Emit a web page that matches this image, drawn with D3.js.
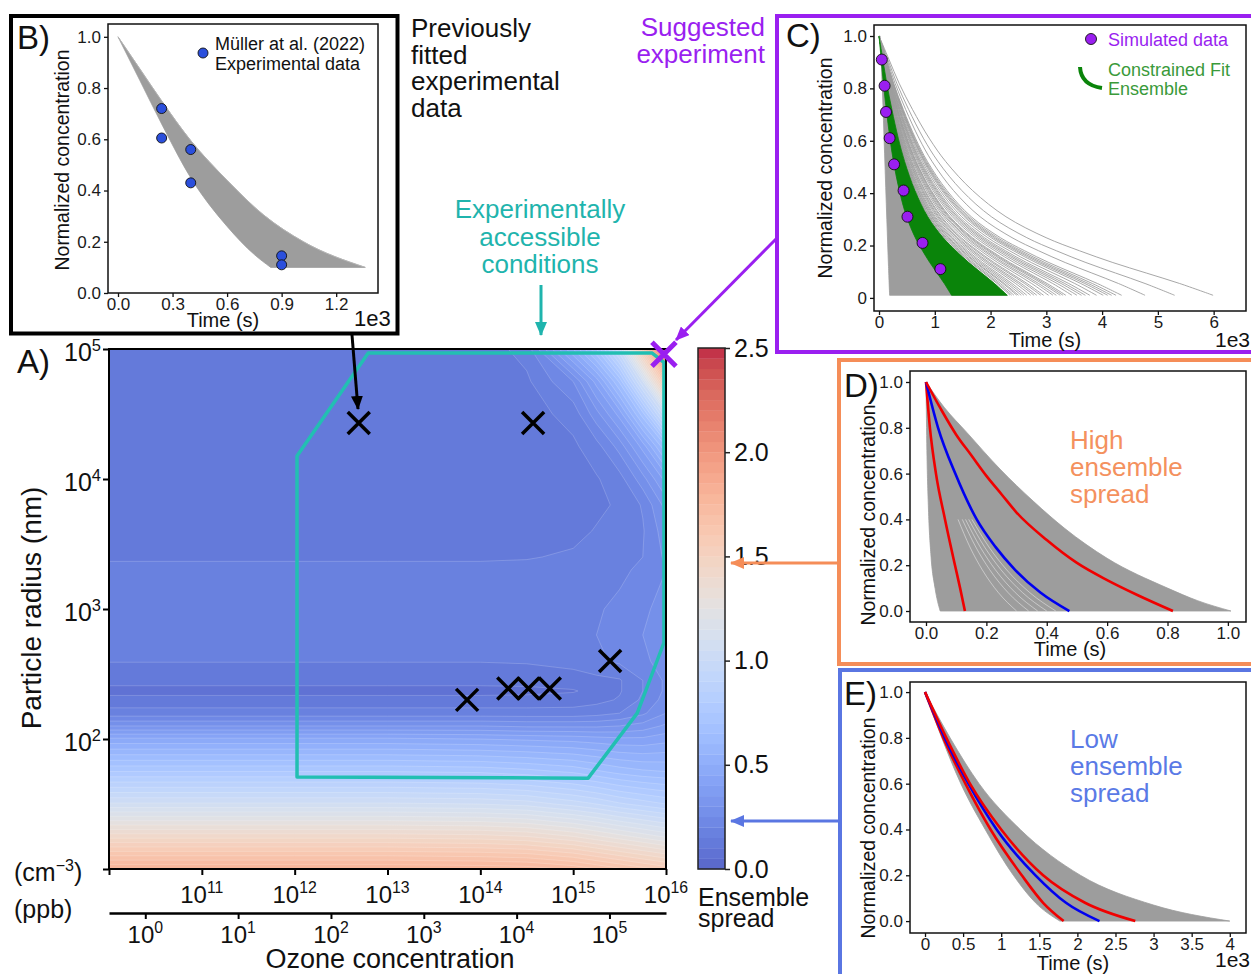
<!DOCTYPE html>
<html>
<head>
<meta charset="utf-8">
<script src="https://cdn.jsdelivr.net/npm/d3@7"></script>
<style>
  body { margin: 0; background: #fff; }
  svg { font-family: "Liberation Sans", Arial, sans-serif; }
</style>
</head>
<body>
<svg id="fig" width="1251" height="974"></svg>
<script>
// ---------- A) ensemble spread over ozone concentration x particle radius ----------
const ozoneGrid = [1e10, 1e12, 1e13, 1e14, 3.16e14, 1e15, 1.78e15, 3.16e15, 5.62e15, 1e16]; // cm^-3
const radiusGrid = [10, 17.8, 31.6, 56.2, 100, 126, 158, 200, 234, 282, 398, 631, 1000,
                    1995, 2512, 3981, 6310, 1e4, 1.78e4, 3.16e4, 5.62e4, 1e5]; // nm
// rows follow radiusGrid (bottom -> top), columns follow ozoneGrid
const spreadGrid = [
  [1.80, 1.80, 1.80, 1.79, 1.78, 1.74, 1.70, 1.66, 1.62, 1.58],
  [1.43, 1.43, 1.43, 1.42, 1.40, 1.35, 1.31, 1.27, 1.23, 1.19],
  [1.06, 1.06, 1.06, 1.05, 1.03, 0.98, 0.95, 0.91, 0.88, 0.85],
  [0.75, 0.75, 0.75, 0.74, 0.72, 0.69, 0.66, 0.63, 0.61, 0.60],
  [0.46, 0.46, 0.46, 0.45, 0.44, 0.43, 0.42, 0.41, 0.41, 0.43],
  [0.30, 0.30, 0.30, 0.30, 0.29, 0.29, 0.29, 0.30, 0.32, 0.36],
  [0.17, 0.17, 0.17, 0.17, 0.17, 0.17, 0.18, 0.20, 0.24, 0.30],
  [0.12, 0.12, 0.12, 0.12, 0.12, 0.125, 0.135, 0.155, 0.21, 0.27],
  [0.08, 0.08, 0.08, 0.08, 0.085, 0.095, 0.12, 0.145, 0.20, 0.26],
  [0.12, 0.12, 0.12, 0.12, 0.12, 0.13, 0.135, 0.145, 0.20, 0.26],
  [0.152, 0.152, 0.152, 0.152, 0.155, 0.165, 0.19, 0.21, 0.24, 0.27],
  [0.17, 0.17, 0.17, 0.17, 0.17, 0.18, 0.20, 0.22, 0.25, 0.28],
  [0.18, 0.18, 0.18, 0.18, 0.18, 0.185, 0.195, 0.21, 0.24, 0.27],
  [0.17, 0.17, 0.17, 0.17, 0.17, 0.175, 0.18, 0.19, 0.21, 0.25],
  [0.14, 0.14, 0.14, 0.14, 0.145, 0.16, 0.17, 0.18, 0.20, 0.26],
  [0.12, 0.12, 0.12, 0.12, 0.125, 0.13, 0.155, 0.175, 0.195, 0.28],
  [0.12, 0.12, 0.12, 0.12, 0.12, 0.125, 0.135, 0.16, 0.205, 0.32],
  [0.12, 0.12, 0.12, 0.12, 0.12, 0.13, 0.145, 0.18, 0.28, 0.42],
  [0.12, 0.12, 0.12, 0.12, 0.12, 0.14, 0.18, 0.27, 0.42, 0.65],
  [0.12, 0.12, 0.12, 0.12, 0.125, 0.17, 0.28, 0.42, 0.68, 1.05],
  [0.12, 0.12, 0.12, 0.12, 0.14, 0.25, 0.42, 0.66, 1.05, 1.65],
  [0.12, 0.12, 0.12, 0.12, 0.17, 0.50, 0.70, 1.00, 1.60, 2.35]
];
const spreadLevels = d3.range(0, 2.51, 0.05);
const spreadTicks = [0, 0.5, 1.0, 1.5, 2.0, 2.5];
const radiusTicks = [1e1, 1e2, 1e3, 1e4, 1e5];
const ozoneTicks = [1e10, 1e11, 1e12, 1e13, 1e14, 1e15, 1e16];
const ppbTicks = [1e0, 1e1, 1e2, 1e3, 1e4, 1e5];
const ppbToCm3 = 2.46e10;

// experimentally accessible region (polygon corners)
const accessOzone = [1.06e12, 1.45e15, 4.9e15, 9.5e15, 9.5e15, 7.1e15, 6.2e12, 1.06e12];
const accessRadius = [51, 50, 158, 550, 7.9e4, 9.3e4, 9.3e4, 1.5e4];

// previous experiments and suggested experiment
const expOzone = [4.9e12, 3.7e14, 7.2e13, 2.0e14, 3.3e14, 5.6e14, 2.5e15];
const expRadius = [2.7e4, 2.7e4, 200, 245, 245, 245, 398];
const suggestedOzone = [9.5e15];
const suggestedRadius = [9.1e4];

// ---------- B) previously fitted data (time in 1e3 s) ----------
const bUpper = [[0, 1.0], [0.12, 0.875], [0.24, 0.75], [0.4, 0.595], [0.6, 0.44], [0.8, 0.305], [1.02, 0.2], [1.36, 0.1]];
const bLower = [[0, 1.0], [0.12, 0.83], [0.24, 0.66], [0.4, 0.45], [0.6, 0.26], [0.75, 0.15], [0.84, 0.1]];
const bExpTime = [0.24, 0.24, 0.4, 0.4, 0.9, 0.9];
const bExpConc = [0.72, 0.605, 0.56, 0.43, 0.145, 0.11];
const bTimeTicks = [0, 0.3, 0.6, 0.9, 1.2];
const concTicks = [0, 0.2, 0.4, 0.6, 0.8, 1.0];

// ---------- C) suggested experiment (time in 1e3 s) ----------
const cProfile = [[0, 1], [0.03, 0.91], [0.06, 0.82], [0.1, 0.72], [0.15, 0.61], [0.2, 0.52], [0.28, 0.41],
                  [0.38, 0.31], [0.5, 0.23], [0.6, 0.18], [0.7, 0.135], [0.8, 0.095], [0.9, 0.055], [1, 0.01]];
const cLeft = [[0.02, 1.0], [0.06, 0.8], [0.1, 0.55], [0.14, 0.3], [0.17, 0.12], [0.19, 0.01]];
const cFitEnds = [1.3, 2.3];
const cGreyEnds = [2.35, 2.38, 2.42, 2.47, 2.5, 2.55, 2.6, 2.65, 2.72, 2.78, 2.83, 2.9, 2.95, 3.04, 3.12,
                   3.18, 3.25, 3.3, 3.35, 3.46, 3.55, 3.63, 3.7, 3.78, 3.9, 4.02, 4.1, 4.17, 4.25, 4.35,
                   4.77, 5.3, 5.99];
const cSimTime = [0.05, 0.1, 0.125, 0.19, 0.27, 0.44, 0.51, 0.78, 1.1];
const cSimConc = [0.91, 0.81, 0.71, 0.61, 0.51, 0.41, 0.31, 0.21, 0.11];
const cTimeTicks = [0, 1, 2, 3, 4, 5, 6];

// ---------- D) high ensemble spread (time in s) ----------
const dUpper = [[0, 1], [0.06, 0.89], [0.135, 0.78], [0.245, 0.62], [0.355, 0.48], [0.46, 0.36], [0.6, 0.23], [0.8, 0.1], [0.9, 0.045], [1.01, 0]];
const dLower = [[0, 1], [0.003, 0.7], [0.008, 0.45], [0.016, 0.25], [0.03, 0.1], [0.047, 0]];
const dRedFast = [[0, 1], [0.013, 0.8], [0.033, 0.6], [0.063, 0.4], [0.096, 0.2], [0.113, 0.1], [0.129, 0]];
const dBlue = [[0, 1], [0.04, 0.8], [0.097, 0.6], [0.168, 0.4], [0.23, 0.28], [0.295, 0.18], [0.38, 0.08], [0.475, 0]];
const dRedSlow = [[0, 1], [0.05, 0.88], [0.1, 0.77], [0.15, 0.68], [0.2, 0.59], [0.25, 0.51], [0.3, 0.43],
                  [0.4, 0.31], [0.5, 0.21], [0.6, 0.135], [0.7, 0.07], [0.818, 0]];
const dGapEnds = [0.3, 0.34, 0.37, 0.4, 0.43];   // lighter gaps inside the D ensemble
const dTimeTicks = [0, 0.2, 0.4, 0.6, 0.8, 1.0];

// ---------- E) low ensemble spread (time in 1e3 s) ----------
const eUpper = [[0, 1], [0.33, 0.8], [0.71, 0.6], [1.25, 0.4], [2.04, 0.2], [3.0, 0.07], [4.0, 0]];
const eLower = [[0, 1], [0.22, 0.8], [0.47, 0.6], [0.79, 0.4], [1.16, 0.2], [1.45, 0.08], [1.77, 0]];
const eRedFast = [[0, 1], [0.24, 0.8], [0.53, 0.6], [0.86, 0.4], [1.27, 0.2], [1.55, 0.08], [1.82, 0]];
const eBlue = [[0, 1], [0.26, 0.8], [0.57, 0.6], [0.94, 0.4], [1.45, 0.2], [1.85, 0.08], [2.29, 0]];
const eRedSlow = [[0, 1], [0.28, 0.8], [0.59, 0.6], [1.0, 0.4], [1.55, 0.2], [2.1, 0.08], [2.76, 0]];
const eTimeTicks = [0, 0.5, 1, 1.5, 2, 2.5, 3, 3.5, 4];

// coolwarm colormap stops
const coolwarm = [[59,76,192],[68,90,204],[77,104,215],[87,117,225],[98,130,234],[108,142,241],[119,154,247],
  [130,165,251],[141,176,254],[152,185,255],[163,194,255],[174,201,253],[184,208,249],[194,213,244],[204,217,238],
  [213,219,230],[221,221,221],[229,216,209],[236,211,197],[241,204,184],[245,196,172],[247,187,160],[247,177,148],
  [247,167,136],[244,154,123],[241,141,111],[236,127,99],[229,112,88],[222,96,77],[213,80,66],[203,62,56],
  [192,40,47],[180,4,38]];

const GREY = "#9d9d9d", PURPLE = "#9a1ff0", TEAL = "#22bfb2", ORANGE = "#f58d58", BLUEBOX = "#5a76e2";

const svg = d3.select("#fig");
const defs = svg.append("defs");

const cw = d3.scaleLinear()
  .domain(coolwarm.map((c, i) => i / (coolwarm.length - 1)))
  .range(coolwarm.map(c => `rgb(${c})`));
function spreadColor(v) {
  const c = d3.rgb(cw(Math.max(0, Math.min(1, v / 2.5))));
  const a = 0.85;
  return d3.rgb(c.r * a + 255 * (1 - a), c.g * a + 255 * (1 - a), c.b * a + 255 * (1 - a)).formatHex();
}

function text(sel, str, x, y, size, opts = {}) {
  return sel.append("text").attr("x", x).attr("y", y).attr("font-size", size)
    .attr("fill", opts.fill || "#111").attr("text-anchor", opts.anchor || "start").text(str);
}
function powLabel(sel, x, y, exp, size, anchor) {
  const t = sel.append("text").attr("x", x).attr("y", y).attr("font-size", size)
    .attr("fill", "#111").attr("text-anchor", anchor || "middle");
  t.append("tspan").text("10");
  t.append("tspan").attr("dy", -size * 0.42).attr("font-size", size * 0.66).text(exp);
  return t;
}
function arrowMarker(id, color) {
  defs.append("marker").attr("id", id).attr("markerUnits", "userSpaceOnUse")
    .attr("viewBox", "0 0 14 12").attr("markerWidth", 14).attr("markerHeight", 12)
    .attr("refX", 13).attr("refY", 6).attr("orient", "auto")
    .append("path").attr("d", "M0,0 L14,6 L0,12 Z").attr("fill", color);
}

// ---------- boxes around the side panels ----------
svg.append("rect").attr("x", 11).attr("y", 16).attr("width", 386.5).attr("height", 317.5)
  .attr("fill", "none").attr("stroke", "#000").attr("stroke-width", 4);
svg.append("rect").attr("x", 777).attr("y", 16).attr("width", 500).attr("height", 336)
  .attr("fill", "none").attr("stroke", PURPLE).attr("stroke-width", 4);
svg.append("rect").attr("x", 839).attr("y", 360).attr("width", 500).attr("height", 304)
  .attr("fill", "none").attr("stroke", ORANGE).attr("stroke-width", 4);
svg.append("rect").attr("x", 840).attr("y", 670).attr("width", 500).attr("height", 400)
  .attr("fill", "none").attr("stroke", BLUEBOX).attr("stroke-width", 4);

// ---------- panel A ----------
const A = { left: 109, right: 666, top: 349, bottom: 869 };
const xO = d3.scaleLog().domain([1e10, 1e16]).range([A.left, A.right]);
const yR = d3.scaleLog().domain([10, 1e5]).range([A.bottom, A.top]);
const xPpb = d3.scaleLog().domain([1e10 / ppbToCm3, 1e16 / ppbToCm3]).range([A.left, A.right]);

defs.append("clipPath").attr("id", "clipA").append("rect")
  .attr("x", A.left).attr("y", A.top).attr("width", A.right - A.left).attr("height", A.bottom - A.top);

const nx = ozoneGrid.length, ny = radiusGrid.length;
const ix = d3.scaleLinear().domain(d3.range(nx)).range(ozoneGrid.map(Math.log10)).clamp(true);
const iy = d3.scaleLinear().domain(d3.range(ny)).range(radiusGrid.map(Math.log10)).clamp(true);
const gridPath = d3.geoPath(d3.geoTransform({
  point(px, py) { this.stream.point(xO(10 ** ix(px - 0.5)), yR(10 ** iy(py - 0.5))); }
}));
const bands = d3.contours().size([nx, ny]).thresholds(spreadLevels.slice(0, -1))(spreadGrid.flat());

const gA = svg.append("g").attr("clip-path", "url(#clipA)");
gA.selectAll("path.band").data(bands).join("path")
  .attr("class", "band")
  .attr("d", gridPath)
  .attr("fill", d => spreadColor(d.value + 0.025))
  .attr("stroke", "#fff").attr("stroke-opacity", 0.3).attr("stroke-width", 0.6);

// accessible region
const accessPts = accessOzone.map((o, i) => [xO(o), yR(accessRadius[i])]);
gA.append("path").attr("d", d3.line()(accessPts) + "Z")
  .attr("fill", "none").attr("stroke", TEAL).attr("stroke-width", 3.5).attr("stroke-linejoin", "round");

function cross(sel, cx, cy, h, color, w) {
  sel.append("path").attr("d", `M${cx - h},${cy - h}L${cx + h},${cy + h}M${cx - h},${cy + h}L${cx + h},${cy - h}`)
    .attr("stroke", color).attr("stroke-width", w).attr("fill", "none");
}
expOzone.forEach((o, i) => cross(svg, xO(o), yR(expRadius[i]), 11, "#000", 3.5));

svg.append("rect").attr("x", A.left).attr("y", A.top).attr("width", A.right - A.left).attr("height", A.bottom - A.top)
  .attr("fill", "none").attr("stroke", "#000").attr("stroke-width", 2);
suggestedOzone.forEach((o, i) => cross(svg, xO(o), yR(suggestedRadius[i]), 12, PURPLE, 5));

// A axes
const axL = svg.append("g").attr("transform", `translate(${A.left},0)`)
  .call(d3.axisLeft(yR).tickValues(radiusTicks).tickSize(6).tickFormat(""));
axL.select(".domain").remove();
axL.selectAll("line").attr("stroke", "#000").attr("stroke-width", 2);
radiusTicks.slice(1).forEach(r => powLabel(svg, 101, yR(r) + 12, String(Math.round(Math.log10(r))), 25, "end"));

const axB = svg.append("g").attr("transform", `translate(0,${A.bottom})`)
  .call(d3.axisBottom(xO).tickValues(ozoneTicks).tickSize(6).tickFormat(""));
axB.select(".domain").remove();
axB.selectAll("line").attr("stroke", "#000").attr("stroke-width", 2);
ozoneTicks.slice(1).forEach(o => powLabel(svg, xO(o), 903, String(Math.round(Math.log10(o))), 24));

const axP = svg.append("g").attr("transform", "translate(0,913)")
  .call(d3.axisBottom(xPpb).tickValues(ppbTicks).tickSize(6).tickSizeOuter(0).tickFormat(""));
axP.select(".domain").attr("stroke", "#000").attr("stroke-width", 2.5);
axP.selectAll("line").attr("stroke", "#000").attr("stroke-width", 2);
ppbTicks.forEach(p => powLabel(svg, xPpb(p), 943, String(Math.round(Math.log10(p))), 24));

const cm = svg.append("text").attr("x", 14).attr("y", 881).attr("font-size", 25).attr("fill", "#111");
cm.append("tspan").text("(cm");
cm.append("tspan").attr("dy", -10).attr("font-size", 16).text("\u22123");
cm.append("tspan").attr("dy", 10).text(")");
text(svg, "(ppb)", 14, 918, 25);
text(svg, "Ozone concentration", 390, 968, 27, { anchor: "middle" });
svg.append("text").attr("transform", "translate(31,608) rotate(-90)").attr("text-anchor", "middle")
  .attr("dominant-baseline", "central").attr("font-size", 28).attr("fill", "#111").text("Particle radius (nm)");
text(svg, "A)", 17, 373, 33);

// colorbar
const cbar = d3.scaleLinear().domain([0, 2.5]).range([869, 348]);
const CB = { left: 698, right: 725 };
svg.append("g").selectAll("rect").data(spreadLevels.slice(0, -1)).join("rect")
  .attr("x", CB.left).attr("width", CB.right - CB.left)
  .attr("y", d => cbar(d + 0.05)).attr("height", d => cbar(d) - cbar(d + 0.05) + 0.3)
  .attr("fill", d => spreadColor(d + 0.025));
svg.append("rect").attr("x", CB.left).attr("y", 348).attr("width", CB.right - CB.left).attr("height", 521)
  .attr("fill", "none").attr("stroke", "#222").attr("stroke-width", 1.5);
const axC = svg.append("g").attr("transform", `translate(${CB.right},0)`)
  .call(d3.axisRight(cbar).tickValues(spreadTicks).tickSize(5).tickFormat(d3.format(".1f")));
axC.select(".domain").remove();
axC.selectAll("line").attr("stroke", "#222").attr("stroke-width", 1.5);
axC.selectAll("text").attr("font-size", 25).attr("font-family", null).attr("fill", "#111").attr("x", 9);
text(svg, "Ensemble", 698, 906, 25);
text(svg, "spread", 698, 927, 25);

// ---------- small panel helper ----------
function smallPanel(o) {
  const x = d3.scaleLinear().domain(o.xDomain).range([o.left, o.right]);
  const y = d3.scaleLinear().domain(o.yDomain).range([o.bottom, o.top]);
  defs.append("clipPath").attr("id", o.id).append("rect")
    .attr("x", o.left).attr("y", o.top).attr("width", o.right - o.left).attr("height", o.bottom - o.top);
  const g = svg.append("g");
  const plot = g.append("g").attr("clip-path", `url(#${o.id})`);
  return { x, y, g, plot, o };
}
function finishPanel(p, xTicks, xFmt, yFmt, xLab) {
  const { x, y, g, o } = p;
  g.append("rect").attr("x", o.left).attr("y", o.top).attr("width", o.right - o.left).attr("height", o.bottom - o.top)
    .attr("fill", "none").attr("stroke", "#111").attr("stroke-width", 1.5);
  const ax = g.append("g").attr("transform", `translate(0,${o.bottom})`)
    .call(d3.axisBottom(x).tickValues(xTicks).tickSize(4).tickPadding(1).tickFormat(xFmt));
  const ay = g.append("g").attr("transform", `translate(${o.left},0)`)
    .call(d3.axisLeft(y).tickValues(concTicks).tickSize(4).tickPadding(3).tickFormat(yFmt));
  [ax, ay].forEach(a => {
    a.select(".domain").remove();
    a.selectAll("line").attr("stroke", "#111").attr("stroke-width", 1.3);
    a.selectAll("text").attr("font-size", 17).attr("font-family", null).attr("fill", "#1a1a1a");
  });
  text(g, "Time (s)", xLab.x, xLab.y, 20, { anchor: "middle" });
  g.append("text").attr("transform", `translate(${o.yLabX},${o.yLabY}) rotate(-90)`)
    .attr("text-anchor", "middle").attr("dominant-baseline", "central").attr("font-size", 19.5)
    .attr("fill", "#111").text("Normalized concentration");
}
function bandPath(x, y, upper, lower, curve) {
  const line = d3.line().x(d => x(d[0])).y(d => y(d[1])).curve(curve);
  return line(upper) + line(lower.slice().reverse()).replace(/^M/, "L") + "Z";
}
const fmt1 = d3.format(".1f");

// ---------- panel B ----------
const pB = smallPanel({ id: "clipB", left: 108, right: 378, top: 24, bottom: 293,
  xDomain: [-0.055, 1.43], yDomain: [0, 1.05], yLabX: 62, yLabY: 160 });
pB.plot.append("path").attr("d", bandPath(pB.x, pB.y, bUpper, bLower, d3.curveMonotoneX))
  .attr("fill", GREY).attr("stroke", GREY).attr("stroke-width", 0.8);
pB.plot.append("path").attr("d", d3.line().x(d => pB.x(d[0])).y(d => pB.y(d[1])).curve(d3.curveMonotoneX)(bUpper))
  .attr("fill", "none").attr("stroke", "#b8b8b8").attr("stroke-width", 0.8);
pB.plot.selectAll("circle").data(bExpTime).join("circle")
  .attr("cx", d => pB.x(d)).attr("cy", (d, i) => pB.y(bExpConc[i])).attr("r", 5)
  .attr("fill", "#2b4fdc").attr("stroke", "#111").attr("stroke-width", 0.9);
finishPanel(pB, bTimeTicks, fmt1, fmt1, { x: 223, y: 327 });
pB.g.append("circle").attr("cx", 203).attr("cy", 53).attr("r", 5).attr("fill", "#2b4fdc").attr("stroke", "#111").attr("stroke-width", 0.9);
text(pB.g, "Müller at al. (2022)", 215, 50, 18);
text(pB.g, "Experimental data", 215, 70, 18);
text(svg, "1e3", 354, 326, 22);
text(svg, "B)", 17, 49, 33);

// ---------- panel C ----------
const pC = smallPanel({ id: "clipC", left: 874, right: 1246, top: 25, bottom: 311,
  xDomain: [-0.09, 6.58], yDomain: [-0.05, 1.042], yLabX: 825, yLabY: 168 });
const scaleProfile = T => cProfile.map(([u, c]) => [u * T, c]);
const lineC = d3.line().x(d => pC.x(d[0])).y(d => pC.y(d[1])).curve(d3.curveCatmullRom);
pC.plot.append("path").attr("d", bandPath(pC.x, pC.y, cLeft, scaleProfile(cFitEnds[1]), d3.curveCatmullRom))
  .attr("fill", GREY).attr("stroke", GREY).attr("stroke-width", 0.8);
pC.plot.selectAll("path.grey").data(cGreyEnds).join("path").attr("class", "grey")
  .attr("d", T => lineC(scaleProfile(T)))
  .attr("fill", "none").attr("stroke", GREY).attr("stroke-width", 0.9);
pC.plot.append("path").attr("d", bandPath(pC.x, pC.y, scaleProfile(cFitEnds[0]), scaleProfile(cFitEnds[1]), d3.curveCatmullRom))
  .attr("fill", "#0a840a").attr("stroke", "#0a840a").attr("stroke-width", 0.8);
pC.plot.selectAll("circle").data(cSimTime).join("circle")
  .attr("cx", d => pC.x(d)).attr("cy", (d, i) => pC.y(cSimConc[i])).attr("r", 5.5)
  .attr("fill", PURPLE).attr("stroke", "#111").attr("stroke-width", 0.9);
finishPanel(pC, cTimeTicks, d3.format("d"), d => d === 0 ? "0" : fmt1(d), { x: 1045, y: 347 });
pC.g.append("circle").attr("cx", 1091).attr("cy", 39).attr("r", 5.5).attr("fill", PURPLE).attr("stroke", "#111").attr("stroke-width", 0.9);
text(pC.g, "Simulated data", 1108, 46, 18, { fill: PURPLE });
pC.g.append("path").attr("d", "M1080,67 Q1081,85 1102,88").attr("fill", "none").attr("stroke", "#0a840a").attr("stroke-width", 4);
text(pC.g, "Constrained Fit", 1108, 76, 18, { fill: "#3a9a3a" });
text(pC.g, "Ensemble", 1108, 95, 18, { fill: "#3a9a3a" });
text(svg, "1e3", 1215, 347, 21);
text(svg, "C)", 786, 47, 33);

// ---------- panel D ----------
const pD = smallPanel({ id: "clipD", left: 910, right: 1246, top: 371, bottom: 622,
  xDomain: [-0.053, 1.06], yDomain: [-0.048, 1.048], yLabX: 868, yLabY: 515 });
const lineD = d3.line().x(d => pD.x(d[0])).y(d => pD.y(d[1])).curve(d3.curveMonotoneX);
pD.plot.append("path").attr("d", bandPath(pD.x, pD.y, dUpper, dLower, d3.curveMonotoneX))
  .attr("fill", GREY).attr("stroke", GREY).attr("stroke-width", 0.8);
// light gaps between ensemble members, shaped like the blue member
pD.plot.selectAll("path.gap").data(dGapEnds).join("path").attr("class", "gap")
  .attr("d", T => lineD(dBlue.filter(d => d[1] <= 0.45).map(([t, c]) => [t * T / 0.475, c])))
  .attr("fill", "none").attr("stroke", "#fff").attr("stroke-opacity", 0.55).attr("stroke-width", 0.8);
[[dRedFast, "#f00000"], [dBlue, "#0000f0"], [dRedSlow, "#f00000"]].forEach(([s, c]) =>
  pD.plot.append("path").attr("d", lineD(s)).attr("fill", "none").attr("stroke", c).attr("stroke-width", 2.6));
finishPanel(pD, dTimeTicks, fmt1, fmt1, { x: 1070, y: 656 });
["High", "ensemble", "spread"].forEach((s, i) => text(svg, s, 1070, 449 + i * 27, 26, { fill: "#f4915e" }));
text(svg, "D)", 844, 397, 33);

// ---------- panel E ----------
const pE = smallPanel({ id: "clipE", left: 910, right: 1246, top: 682, bottom: 933,
  xDomain: [-0.197, 4.213], yDomain: [-0.052, 1.044], yLabX: 868, yLabY: 828 });
const lineE = d3.line().x(d => pE.x(d[0])).y(d => pE.y(d[1])).curve(d3.curveMonotoneX);
pE.plot.append("path").attr("d", bandPath(pE.x, pE.y, eUpper, eLower, d3.curveMonotoneX))
  .attr("fill", GREY).attr("stroke", GREY).attr("stroke-width", 0.8);
[[eRedFast, "#f00000"], [eBlue, "#0000f0"], [eRedSlow, "#f00000"]].forEach(([s, c]) =>
  pE.plot.append("path").attr("d", lineE(s)).attr("fill", "none").attr("stroke", c).attr("stroke-width", 2.6));
finishPanel(pE, eTimeTicks, d => String(d), fmt1, { x: 1073, y: 970 });
["Low", "ensemble", "spread"].forEach((s, i) => text(svg, s, 1070, 748 + i * 27, 26, { fill: "#5a7ae6" }));
text(svg, "1e3", 1215, 967, 21);
text(svg, "E)", 844, 705, 33);

// ---------- annotations ----------
["Previously", "fitted", "experimental", "data"].forEach((s, i) => text(svg, s, 411, 37 + i * 26.7, 26));
["Suggested", "experiment"].forEach((s, i) => text(svg, s, 765, 36 + i * 27, 26, { fill: PURPLE, anchor: "end" }));
["Experimentally", "accessible", "conditions"].forEach((s, i) => text(svg, s, 540, 218 + i * 27.5, 26, { fill: "#1fb4ad", anchor: "middle" }));

arrowMarker("hBlack", "#000");
arrowMarker("hTeal", "#1fb4ad");
arrowMarker("hPurple", PURPLE);
arrowMarker("hOrange", ORANGE);
arrowMarker("hBlue", BLUEBOX);
function arrow(x1, y1, x2, y2, color, id) {
  svg.append("line").attr("x1", x1).attr("y1", y1).attr("x2", x2).attr("y2", y2)
    .attr("stroke", color).attr("stroke-width", 3).attr("marker-end", `url(#${id})`);
}
arrow(352, 335, 358, 409, "#000", "hBlack");
arrow(541, 285, 541, 335, "#1fb4ad", "hTeal");
arrow(777, 238, 676, 340, PURPLE, "hPurple");
arrow(838, 563, 731, 563, ORANGE, "hOrange");
arrow(838, 821, 731, 821, BLUEBOX, "hBlue");
</script>
</body>
</html>
